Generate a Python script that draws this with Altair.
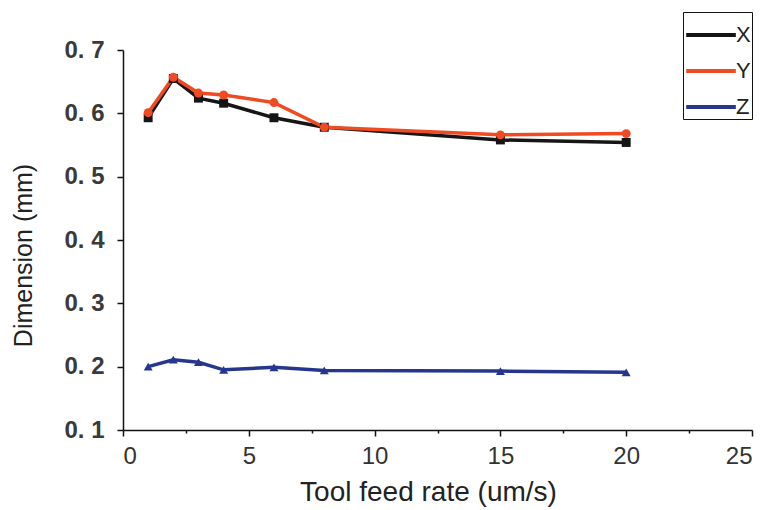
import altair as alt
import pandas as pd

feed_rate = [1, 2, 3, 4, 6, 8, 15, 20]
dim_x = [0.593, 0.655, 0.624, 0.616, 0.593, 0.578, 0.558, 0.554]
dim_y = [0.601, 0.657, 0.632, 0.629, 0.617, 0.578, 0.566, 0.568]
dim_z = [0.200, 0.211, 0.207, 0.195, 0.199, 0.194, 0.193, 0.191]
series = ["X", "Y", "Z"]
colors = ["#151515", "#f04a22", "#26368f"]
shapes = ["square", "circle", "triangle-up"]

rows = []
for name, vals in zip(series, [dim_x, dim_y, dim_z]):
    for fx, v in zip(feed_rate, vals):
        rows.append({"rate": fx, "dim": v, "series": name})
df = pd.DataFrame(rows)

x_ticks = [i * 2.5 for i in range(11)]
y_ticks = [round(0.1 + i * 0.05, 2) for i in range(13)]

x_enc = alt.X(
    "rate:Q",
    scale=alt.Scale(domain=[0, 25], nice=False),
    axis=alt.Axis(
        title="Tool feed rate (um/s)",
        values=x_ticks,
        labelExpr="datum.value % 5 === 0 ? datum.label : ''",
        tickSize={"condition": {"test": "datum.value % 5 === 0", "value": 6}, "value": 3},
        labelPadding=8,
        labelFontSize=24,
        labelColor="#333333",
        labelFont="Liberation Sans",
        titleFont="Liberation Sans",
        titleFontSize=28,
        titleFontWeight="normal",
        titleColor="#222222",
        titleBaseline="alphabetic",
        titleX=305,
        titleY=70,
        grid=False,
    ),
)
y_enc = alt.Y(
    "dim:Q",
    scale=alt.Scale(domain=[0.1, 0.7], nice=False, zero=False),
    axis=alt.Axis(
        title="Dimension (mm)",
        values=y_ticks,
        labelExpr="abs(datum.value*10 - round(datum.value*10)) < 0.001 ? replace(format(datum.value, '.1f'), '.', '. ') : ''",
        tickSize={"condition": {"test": "abs(datum.value*10 - round(datum.value*10)) < 0.001", "value": 6}, "value": 3},
        labelPadding=13,
        labelFontSize=24,
        labelFontWeight="bold",
        labelColor="#3a3a3a",
        labelFont="Liberation Sans",
        titleFont="Liberation Sans",
        titleFontSize=25,
        titleFontWeight="normal",
        titleColor="#222222",
        titleX=-87,
        titleY=205,
        grid=False,
    ),
)

color_scale = alt.Scale(domain=series, range=colors)

lines = alt.Chart(df).mark_line(strokeWidth=3.5).encode(
    x=x_enc,
    y=y_enc,
    color=alt.Color(
        "series:N",
        scale=color_scale,
        legend=alt.Legend(
            title=" ",
            titleFontSize=6,
            titlePadding=0,
            orient="none",
            legendX=560,
            legendY=-38,
            symbolType="M-1,0H2.6",
            symbolSize=760,
            symbolStrokeWidth=4,
            labelFontSize=22,
            labelFont="Liberation Sans",
            labelColor="#222222",
            labelOffset=20,
            padding=1,
            rowPadding=9,
            strokeColor="#111111",
        ),
    ),
)

point_layers = [
    alt.Chart(df)
    .transform_filter(alt.datum.series == name)
    .mark_point(filled=True, size=80, opacity=1, color=col, shape=shp)
    .encode(x="rate:Q", y="dim:Q")
    for name, col, shp in zip(series, colors, shapes)
]

chart = (
    alt.layer(lines, *point_layers)
    .properties(
        width=629,
        height=380,
        autosize="none",
        background="white",
        padding={"left": 115, "top": 42, "right": 2, "bottom": 78},
    )
    .configure_view(stroke=None, strokeWidth=0, strokeOpacity=0)
    .configure_axis(
        domainColor="#111111",
        domainWidth=1.5,
        tickColor="#111111",
        tickWidth=1.5,
        grid=False,
        gridOpacity=0,
        gridColor="lime",
    )
)

chart.save("out.html", embed_options={"renderer": "svg", "actions": False})
